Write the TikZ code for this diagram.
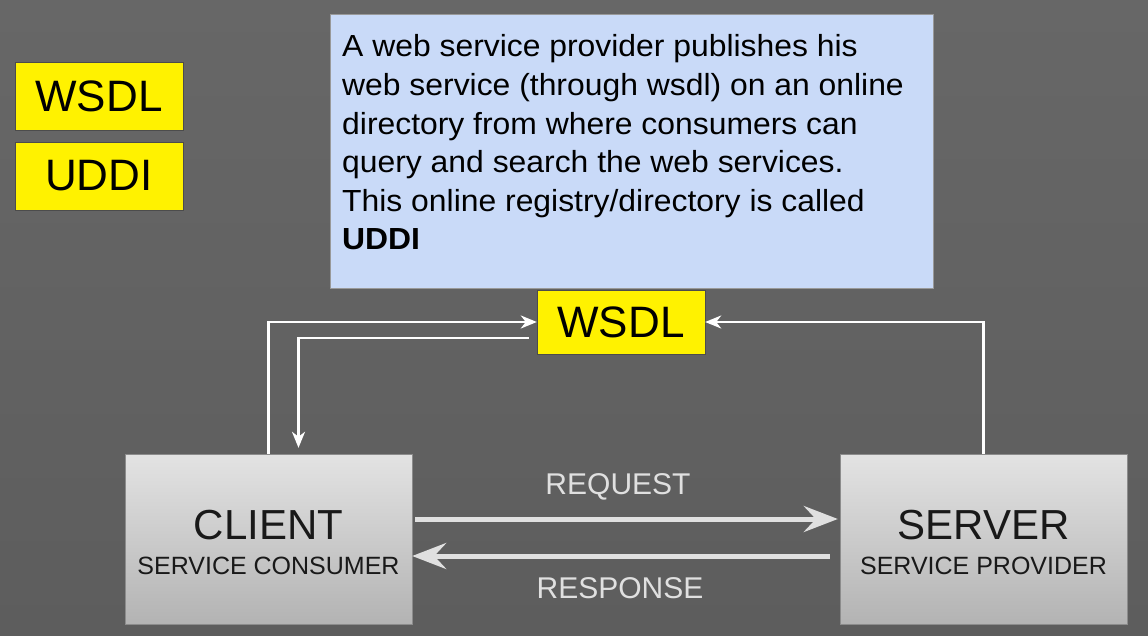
\documentclass[tikz,border=0pt]{standalone}
\usepackage{fontspec}
\setmainfont{Liberation Sans}
\newfontfamily\infofont[FakeStretch=1.045]{Liberation Sans}
\usetikzlibrary{arrows.meta}

\definecolor{bgtop}{HTML}{676767}
\definecolor{bgbottom}{HTML}{5D5D5D}
\definecolor{wsdlyellow}{HTML}{FFF200}
\definecolor{infoblue}{HTML}{C9DAF8}
\definecolor{boxtop}{HTML}{E3E3E3}
\definecolor{boxbottom}{HTML}{B3B3B3}
\definecolor{flowgray}{HTML}{E0E0E0}

\tikzset{
  tag/.style={draw=gray!60!black, fill=wsdlyellow, minimum width=168pt, minimum height=68pt, inner sep=0pt, font=\fontsize{44}{44}\selectfont},
  infobox/.style={draw=gray!80, fill=infoblue, minimum width=603pt, minimum height=274pt, inner sep=0pt},
  infotext/.style={align=left, inner sep=0pt, font=\infofont\fontsize{30.5}{38.6}\selectfont},
  party/.style={draw=gray!90, top color=boxtop, bottom color=boxbottom, minimum width=287pt, minimum height=170pt, inner sep=0pt, align=center, text=black!90, font=\fontsize{25}{35}\selectfont},
  link/.style={draw=white, line width=2.5pt, -{Stealth[length=16pt, width=13pt, inset=5pt]}},
  flow/.style={draw=flowgray, line width=5pt, -{Stealth[length=34pt, width=26pt, inset=12pt]}},
  flowlabel/.style={text=flowgray, font=\fontsize{30}{30}\selectfont},
}

\begin{document}
\begin{tikzpicture}[x=1pt, y=-1pt]
  \useasboundingbox (0,0) rectangle (1148,636);
  \fill[top color=bgtop, bottom color=bgbottom] (0,0) rectangle (1148,636);

  % legend
  \node[tag] (legendwsdl) at (99, 96) {WSDL};
  \node[tag] (legenduddi) at (99, 176) {UDDI};

  % registry note
  \node[infobox] (info) at (631.5, 151) {};
  \node[infotext, anchor=north west] (infotxt) at (342, 34.5) {A web service provider publishes his\\
    web service (through wsdl) on an online\\
    directory from where consumers can\\
    query and search the web services.\\
    This online registry/directory is called\\
    \textbf{UDDI}};

  % wsdl, client and server
  \node[tag, minimum height=64pt] (wsdl) at (621, 322) {WSDL};
  \node[party] (client) at (268.5, 539) {\rule{0pt}{36pt}{\fontsize{42}{35}\selectfont CLIENT}\\SERVICE CONSUMER};
  \node[party] (server) at (983.5, 539) {\rule{0pt}{36pt}{\fontsize{42}{35}\selectfont SERVER}\\SERVICE PROVIDER};

  \draw[link] (client.north) |- (wsdl.west);
  \draw[link, shorten <=8pt, shorten >=6pt] ([yshift=-16pt]wsdl.west) -| ([xshift=30pt]client.north);
  \draw[link] (server.north) |- (wsdl.east);

  \draw[flow, shorten <=3pt, shorten >=2pt] ([yshift=20pt]client.east) -- ([yshift=20pt]server.west)
    node[flowlabel, midway, yshift=32pt, xshift=-8pt] {REQUEST};
  \draw[flow, shorten <=10pt] ([yshift=-17pt]server.west) -- ([yshift=-17pt]client.east)
    node[flowlabel, midway, yshift=-32pt, xshift=-6pt] {RESPONSE};
\end{tikzpicture}
\end{document}
